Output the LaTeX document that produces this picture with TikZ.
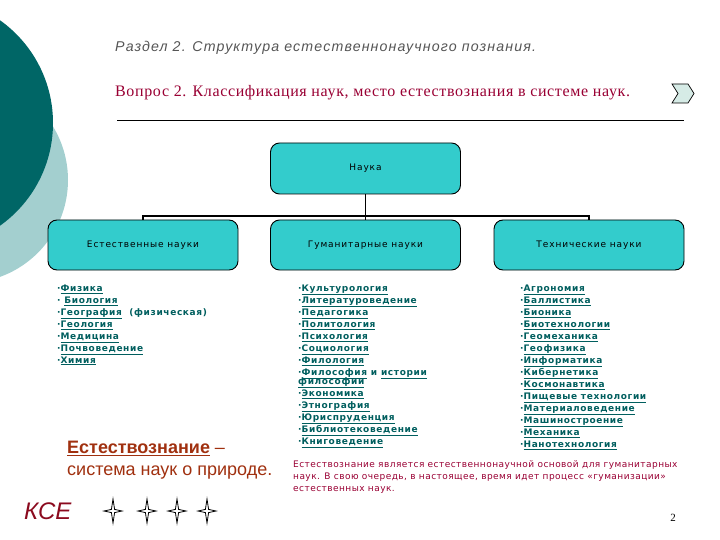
\documentclass[tikz,border=0pt]{standalone}
\usepackage{fontspec}
\setmainfont{Liberation Serif}
\newfontfamily\arialfont{Liberation Sans}
\newfontfamily\verdfont{DejaVu Sans}
\usepackage{tikz}
\usetikzlibrary{positioning}

\definecolor{darkteal}{HTML}{006666}
\definecolor{paleteal}{HTML}{A3CFCF}
\definecolor{boxfill}{HTML}{33CCCC}
\definecolor{listcol}{HTML}{005E5E}
\definecolor{qred}{HTML}{990033}
\definecolor{brownred}{HTML}{A0300F}
\definecolor{kcered}{HTML}{8B0A1E}
\definecolor{headgray}{HTML}{555555}
\definecolor{chevfill}{HTML}{D6EBE6}

\newcommand{\lnk}[1]{\underline{#1}}

\begin{document}
\begin{tikzpicture}[x=1pt, y=-1pt, every node/.style={inner sep=0pt},
  sbox/.style={draw=black, line width=0.9pt, fill=boxfill, rounded corners=9pt,
    minimum width=190pt, minimum height=50pt,
    font=\verdfont\addfontfeatures{LetterSpace=10}\fontsize{9}{10}\selectfont},
  listtext/.style={anchor=north west, align=left, text=listcol,
    font=\verdfont\addfontfeatures{LetterSpace=7}\bfseries\fontsize{9}{12}\selectfont}]
  \useasboundingbox (0,0) rectangle (720,540);
  \clip (0,0) rectangle (720,540);
  % side circles
  \fill[paleteal] (-35,180) circle (103pt);
  \fill[darkteal] (-73,123) circle (126pt);
  % headings
  \node[anchor=west, text=headgray,
    font=\arialfont\addfontfeatures{LetterSpace=8}\itshape\fontsize{14.2}{16}\selectfont]
    (razdel) at (115,48) {Раздел 2. Структура естественнонаучного познания.};
  \node[anchor=west, text=qred,
    font=\addfontfeatures{LetterSpace=4}\fontsize{16}{18}\selectfont]
    (vopros) at (115,93) {Вопрос 2. Классификация наук, место естествознания в системе наук.};
  \draw[fill=chevfill, line width=0.7pt] (672,84) -- (688,84) -- (694,93.5)
    -- (688,103) -- (672,103) -- (678,93.5) -- cycle;
  \draw[line width=0.8pt] (117,120) -- (684,120);
  % tree
  \node[sbox, minimum height=51pt] (nauka) at (365.5,168.5) {Наука};
  \node[sbox] (estest) at (143,245) {Естественные науки};
  \node[sbox] (guman) at (365.5,245) {Гуманитарные науки};
  \node[sbox] (tehn) at (589,245) {Технические науки};
  \coordinate (bus) at (365.5,216);
  \draw[line width=1.8pt] (nauka) -- (guman);
  \draw[line width=1.8pt] (estest.north) |- (bus) -| (tehn.north);
  % lists
  \node[listtext] (natlist) at (57,284.5) {%
    ·\lnk{Физика}\\
    · \lnk{Биология}\\
    ·\lnk{География}\ \ (физическая)\\
    ·\lnk{Геология}\\
    ·\lnk{Медицина}\\
    ·\lnk{Почвоведение}\\
    ·\lnk{Химия}};
  \node[listtext] (humlist) at (298,284.5) {%
    ·\lnk{Культурология}\\
    ·\lnk{Литературоведение}\\
    ·\lnk{Педагогика}\\
    ·\lnk{Политология}\\
    ·\lnk{Психология}\\
    ·\lnk{Социология}\\
    ·\lnk{Филология}\\
    ·\lnk{Философия} и \lnk{истории}\\[-3pt]
    \lnk{философии}\\
    ·\lnk{Экономика}\\
    ·\lnk{Этнография}\\
    ·\lnk{Юриспруденция}\\
    ·\lnk{Библиотековедение}\\
    ·\lnk{Книговедение}};
  \node[listtext] (techlist) at (520,284.5) {%
    ·\lnk{Агрономия}\\
    ·\lnk{Баллистика}\\
    ·\lnk{Бионика}\\
    ·\lnk{Биотехнологии}\\
    ·\lnk{Геомеханика}\\
    ·\lnk{Геофизика}\\
    ·\lnk{Информатика}\\
    ·\lnk{Кибернетика}\\
    ·\lnk{Космонавтика}\\
    ·\lnk{Пищевые технологии}\\
    ·\lnk{Материаловедение}\\
    ·\lnk{Машиностроение}\\
    ·\lnk{Механика}\\
    ·\lnk{Нанотехнология}};
  % bottom texts
  \node[anchor=north west, align=left, text=brownred,
    font=\arialfont\fontsize{18}{22}\selectfont] (defn) at (67,441)
    {\lnk{\textbf{Естествознание}} –\\система наук о природе.};
  \node[anchor=north west, align=left, text=qred,
    font=\verdfont\addfontfeatures{LetterSpace=5}\fontsize{9}{12}\selectfont] (para) at (293,460)
    {Естествознание является естественнонаучной основой для гуманитарных\\
     наук. В свою очередь, в настоящее, время идет процесс «гуманизации»\\
     естественных наук.};
  \node[anchor=west, text=kcered, font=\arialfont\itshape\fontsize{24}{26}\selectfont]
    (kse) at (24,511) {КСЕ};
  \foreach \sx in {113,147,177,207}{
    \draw[fill=white, line width=0.8pt, shift={(\sx,511)}] (0,-12) -- (1.6,-1.6)
      -- (9,0) -- (1.6,1.6) -- (0,12) -- (-1.6,1.6) -- (-9,0) -- (-1.6,-1.6) -- cycle;}
  \node[font=\fontsize{11}{13}\selectfont] (pagenum) at (673,518) {2};
\end{tikzpicture}
\end{document}
